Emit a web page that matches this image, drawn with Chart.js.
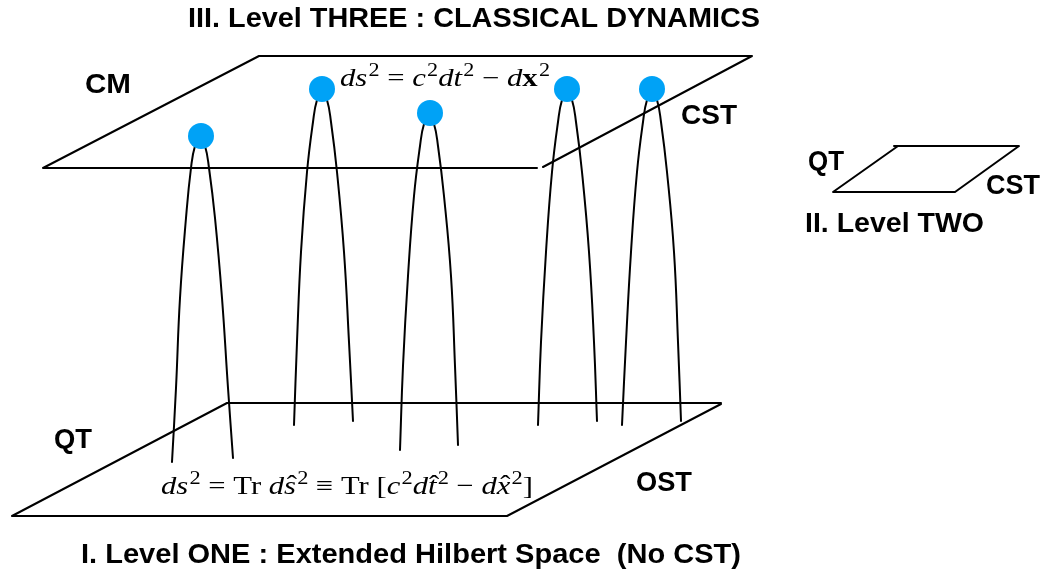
<!DOCTYPE html>
<html><head><meta charset="utf-8">
<script src="https://cdn.jsdelivr.net/npm/chart.js@4.4.1/dist/chart.umd.min.js"></script>
<style>html,body{margin:0;padding:0;background:#fff}canvas{display:block}</style>
</head><body>
<canvas id="c" width="1055" height="577"></canvas>
<script>
// ---- data (diagram coordinates) ----
const topPlane    = [[537,168],[43,168],[259,56],[752,56],[543,167]];
const bottomPlane = [[721,403],[227,403],[12,516],[507,516],[721,404]];
const smallPlane  = [[898,146],[833,192],[955,192],[1019,146],[894,146]];
const arch1 = [[172,462],[176,388],[180,298],[186,218],[191,168],[195,146],[200,138],[205,146],[209,168],[215,218],[222,298],[228,388],[233,458]];
const arch2 = [[294,425],[297,342],[301,252],[307,172],[313,122],[317,100],[322,92],[327,100],[331,122],[337,172],[344,252],[349,342],[353,421]];
const arch3 = [[400,450],[403,366],[408,276],[414,196],[420,146],[424,124],[429,116],[434,124],[438,146],[444,196],[451,276],[455,366],[458,445]];
const arch4 = [[538,425],[541,342],[546,252],[552,172],[558,122],[562,100],[567,92],[572,100],[576,122],[582,172],[589,252],[594,342],[597,421]];
const arch5 = [[622,425],[626,342],[631,252],[637,172],[643,122],[647,100],[652,92],[657,100],[661,122],[667,172],[674,252],[678,342],[681,421]];
const particles = [[201,136],[322,89],[430,113],[567,89],[652,89]];
const labelTexts = ['III. Level THREE : CLASSICAL DYNAMICS','CM','CST','QT','CST','II. Level TWO','QT','OST','I. Level ONE : Extended Hilbert Space  (No CST)'];
const formulaTop = [['d','i'],['s','i'],['2','sup'],[' = ','r'],['c','i'],['2','sup'],['d','i'],['t','i'],['2','sup'],[' − ','r'],['d','i'],['x','b'],['2','sup']];
const formulaBottom = [['d','i'],['s','i'],['2','sup'],[' = Tr ','r'],['d','i'],['s','ih'],['2','sup'],[' ≡ Tr [','r'],['c','i'],['2','sup'],['d','i'],['t','ih'],['2','sup'],[' − ','r'],['d','i'],['x','ih'],['2','sup'],[']','r']];

const pts = a => a.map(([x,y]) => ({x, y}));
function lineSet(a, tension){
  return {data: pts(a), showLine: true, borderColor: '#000', borderWidth: 2, pointRadius: 0,
          pointHoverRadius: 0, tension: tension, fill: false, order: 1, clip: false,
          borderCapStyle: 'round', borderJoinStyle: 'round'};
}

// label placement: [textIndex, left, right, capCenterY]
const labelPos = [[0,188,760,17],[1,85,131,83],[2,681,737,114],[3,808,844,160],[4,986,1040,184],[5,805,984,222],[6,54,92,438],[7,636,692,481],[8,81,741,553]];

const textPlugin = {
  id: 'texts',
  afterDatasetsDraw(chart){
    const ctx = chart.ctx;
    ctx.save();
    ctx.fillStyle = '#000';
    const size = 27;
    ctx.font = 'bold ' + size + 'px "Liberation Sans", Arial, sans-serif';
    ctx.textBaseline = 'alphabetic';
    for (const [ti, l, r, cy] of labelPos){
      const t = labelTexts[ti];
      const w = ctx.measureText(t).width;
      const sx = (r - l) / w;
      ctx.save();
      ctx.translate(l, cy + size*0.716/2);
      ctx.scale(sx, 1);
      ctx.fillText(t, 0, 0);
      ctx.restore();
    }
    drawFormula(ctx, formulaTop, 340, 550, 86, 25);
    drawFormula(ctx, formulaBottom, 161, 533, 494, 26);
    ctx.restore();
  }
};

function segFont(kind, size){
  const fam = '"Liberation Serif", "Times New Roman", serif';
  if (kind === 'sup') return Math.round(size*0.72) + 'px ' + fam;
  if (kind === 'b') return 'bold ' + size + 'px ' + fam;
  if (kind === 'r') return size + 'px ' + fam;
  return 'italic ' + size + 'px ' + fam;
}
function drawFormula(ctx, segs, left, right, baseline, size){
  let total = 0;
  const widths = segs.map(([t,k]) => { ctx.font = segFont(k,size); const w = ctx.measureText(t).width + (k==='sup'?1:0); total += w; return w; });
  const sx = (right - left) / total;
  ctx.save();
  ctx.translate(left, baseline);
  ctx.scale(sx, 1);
  let x = 0;
  segs.forEach(([t,k], i) => {
    ctx.font = segFont(k,size);
    const y = k === 'sup' ? -size*0.40 : 0;
    ctx.fillText(t, x + (k==='sup'?1:0), y);
    if (k === 'ih'){
      ctx.font = size + 'px "Liberation Serif", serif';
      const hw = ctx.measureText('ˆ').width;
      ctx.fillText('ˆ', x + widths[i]/2 - hw/2 + 1.5, -size*0.02);
    }
    x += widths[i];
  });
  ctx.restore();
}

new Chart(document.getElementById('c'), {
  type: 'scatter',
  data: {
    datasets: [
      {data: pts(particles), pointRadius: 13, pointHoverRadius: 13, pointBackgroundColor: '#00a2f6',
       pointBorderWidth: 0, borderWidth: 0, showLine: false, order: 0, clip: false},
      lineSet(topPlane, 0), lineSet(bottomPlane, 0), lineSet(smallPlane, 0),
      lineSet(arch1, 0.45), lineSet(arch2, 0.45), lineSet(arch3, 0.45), lineSet(arch4, 0.45), lineSet(arch5, 0.45)
    ]
  },
  options: {
    responsive: false, animation: false, devicePixelRatio: 1,
    layout: {padding: 0, autoPadding: false},
    events: [],
    plugins: {legend: {display: false}, tooltip: {enabled: false}, title: {display: false}},
    scales: {
      x: {type: 'linear', min: 0, max: 1055, display: false},
      y: {type: 'linear', min: 0, max: 577, reverse: true, display: false}
    }
  },
  plugins: [textPlugin]
});
</script>
</body></html>
